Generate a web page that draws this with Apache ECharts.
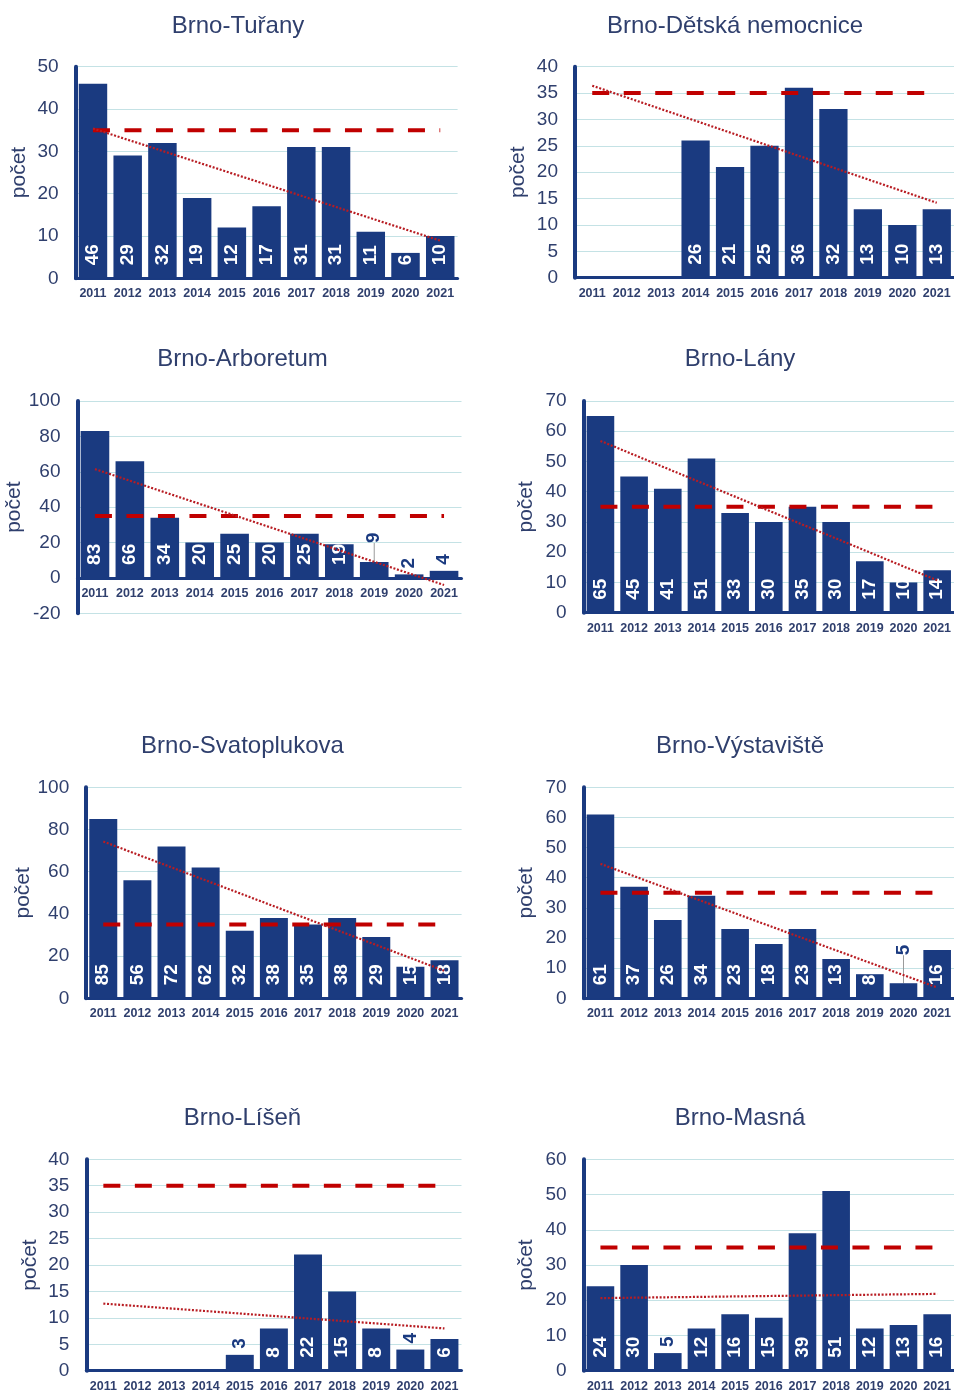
<!DOCTYPE html>
<html><head><meta charset="utf-8">
<script src="https://cdn.jsdelivr.net/npm/echarts@6/dist/echarts.min.js"></script>
<style>html,body{margin:0;padding:0;background:#fff;overflow:hidden}#c{width:954px;height:1394px}</style>
</head><body><div id="c"></div>
<script>
// ---- data ----
const years = ['2011','2012','2013','2014','2015','2016','2017','2018','2019','2020','2021'];
const turany = [46,29,32,19,12,17,31,31,11,6,10];
const detskaNemocnice = [null,null,null,26,21,25,36,32,13,10,13];
const arboretum = [83,66,34,20,25,20,25,19,9,2,4];
const lany = [65,45,41,51,33,30,35,30,17,10,14];
const svatoplukova = [85,56,72,62,32,38,35,38,29,15,18];
const vystaviste = [61,37,26,34,23,18,23,13,8,5,16];
const lisen = [null,null,null,null,3,8,22,15,8,4,6];
const masna = [24,30,5,12,16,15,39,51,12,13,16];
const limitValue = 35;
// trend line end values at 2011 and 2021
const trendTurany = [35.4, 8.9];
const trendDetska = [36.4, 14.2];
const trendArboretum = [61.5, -4.0];
const trendLany = [56.8, 10.7];
const trendSvatoplukova = [74.3, 13.0];
const trendVystaviste = [44.6, 3.6];
const trendLisen = [12.7, 8.0];
const trendMasna = [20.6, 21.8];
const stationNames = ['Brno-Tuřany','Brno-Dětská nemocnice','Brno-Arboretum','Brno-Lány','Brno-Svatoplukova','Brno-Výstaviště','Brno-Líšeň','Brno-Masná'];
const yMins = [0,0,-20,0,0,0,0,0];
const yMaxs = [50,40,100,70,100,70,40,60];
const ySteps = [10,5,20,10,20,10,5,10];
const yAxisName = 'počet';

// ---- layout / style ----
const series = [turany, detskaNemocnice, arboretum, lany, svatoplukova, vystaviste, lisen, masna];
const trends = [trendTurany, trendDetska, trendArboretum, trendLany, trendSvatoplukova, trendVystaviste, trendLisen, trendMasna];
const layout = [
  {l:75.6, t:66.7, w:382, h:211.6, tx:238, ty:25, gap:46},
  {l:575, t:66.7, w:379.5, h:211, tx:735, ty:25, gap:46},
  {l:77.5, t:401, w:384, h:212.3, tx:242.5, ty:358, gap:44, leader:{8:13}},
  {l:583.6, t:401, w:375.5, h:211.7, tx:740, ty:358, gap:47},
  {l:86.2, t:787.3, w:375.4, h:211, tx:242.5, ty:745, gap:52},
  {l:583.6, t:787.3, w:375.5, h:211, tx:740, ty:745, gap:47, leader:{9:22}},
  {l:86.3, t:1159.3, w:375.2, h:211.4, tx:242.5, ty:1117, gap:46},
  {l:583.6, t:1159.3, w:375.5, h:211.4, tx:740, ty:1117, gap:47}
];
const NAVY = '#1a3a80', TXT = '#2f3f6d', GRID = '#c4e2e5', RED = '#c00000';
const FONT = "'Liberation Sans', Arial, sans-serif";

const option = {backgroundColor:'#fff', animation:false, title:[], grid:[], xAxis:[], yAxis:[], series:[]};
layout.forEach((L, i) => {
  const pxPerUnit = L.h / (yMaxs[i] - yMins[i]);
  option.title.push({text: stationNames[i], left: L.tx, top: L.ty - 12, textAlign:'center', padding:0,
    textStyle:{fontFamily:FONT, fontSize:24, fontWeight:'normal', color:TXT, lineHeight:26}});
  option.grid.push({left:L.l, top:L.t, width:L.w, height:L.h, containLabel:false});
  option.xAxis.push({type:'category', gridIndex:i, data:years,
    offset: yMins[i] < 0 ? yMins[i] * pxPerUnit : 0,
    axisLine:{onZero:false, lineStyle:{color:NAVY, width:3}}, axisTick:{show:false},
    axisLabel:{interval:0, margin:9, fontFamily:FONT, fontSize:12.5, fontWeight:'bold', color:TXT}});
  option.yAxis.push({type:'value', gridIndex:i, min:yMins[i], max:yMaxs[i], interval:ySteps[i],
    name:yAxisName, nameLocation:'middle', nameRotate:90, nameGap:L.gap,
    nameTextStyle:{fontFamily:FONT, fontSize:21, color:TXT},
    axisLine:{show:true, onZero:false, lineStyle:{color:NAVY, width:4}}, axisTick:{show:false},
    axisLabel:{margin:17, fontFamily:FONT, fontSize:19, color:TXT},
    splitLine:{lineStyle:{color:GRID, width:1}}});
  const leader = L.leader || {};
  const data = series[i].map((v, k) => {
    if (v == null) return '-';
    if (v * pxPerUnit < 23) {
      const item = {value:v, label:{position:'top', color:NAVY, distance:6}};
      if (leader[k]) item.labelLine = {show:true, lineStyle:{color:'#9a9a9a', width:1}};
      return item;
    }
    return v;
  });
  option.series.push({type:'bar', xAxisIndex:i, yAxisIndex:i, data:data, barCategoryGap:'18%', z:2,
    itemStyle:{color:NAVY},
    label:{show:true, position:'insideBottom', rotate:90, align:'left', verticalAlign:'middle', distance:13,
      color:'#fff', fontFamily:FONT, fontSize:19, fontWeight:'bold'},
    labelLine:{show:false},
    labelLayout: (p) => leader[p.dataIndex] ? {dx: leader[p.dataIndex]} : {},
    silent:true});
  option.series.push({type:'line', xAxisIndex:i, yAxisIndex:i, z:5, silent:true, symbol:'none',
    data:[[0, limitValue],[years.length-1, limitValue]],
    lineStyle:{color:RED, width:4, type:[17,14.5]}});
  option.series.push({type:'line', xAxisIndex:i, yAxisIndex:i, z:6, silent:true, symbol:'none',
    data:[[0, trends[i][0]],[years.length-1, trends[i][1]]],
    lineStyle:{color:'#b81c22', width:2.2, type:[2,1.7]}});
});
const chart = echarts.init(document.getElementById('c'), null, {renderer:'canvas'});
chart.setOption(option);
</script>
</body></html>
